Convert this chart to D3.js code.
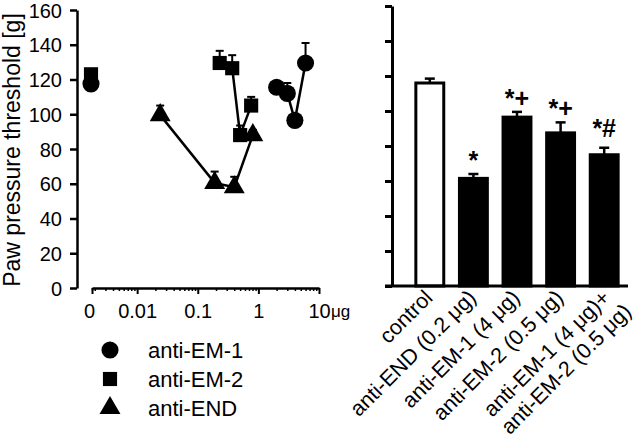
<!DOCTYPE html>
<html>
<head>
<meta charset="utf-8">
<script src="https://cdn.jsdelivr.net/npm/d3@7"></script>
<style>
body { margin: 0; background: white; }
svg { font-family: "Liberation Sans", Arial, sans-serif; }
</style>
</head>
<body>
<div id="chart"></div>
<script>
// dose-response (left panel), dose in ug, 0 = control
var em1Dose = [2, 3, 4, 6];
var em1Val = [115.5, 112, 96.5, 129.5];
var em1Err = [3, 6, 3, 11.5];
var em2Dose = [0.23, 0.37, 0.5, 0.76];
var em2Val = [129.5, 126.5, 88, 105];
var em2Err = [7, 7.5, 5.5, 5];
var endDose = [0.024, 0.19, 0.4, 0.81];
var endVal = [99.5, 60.5, 58, 88];
var endErr = [5.5, 6.5, 6, 3];
var ctrlVal = {circle: 117.5, square: 123};
var ctrlErr = {circle: 2, square: 3};

var yTicks = [0, 20, 40, 60, 80, 100, 120, 140, 160];
var xMajor = [0.01, 0.1, 1, 10];
var xMajorLabels = ["0.01", "0.1", "1", "10"];
var legendNames = ["anti-EM-1", "anti-EM-2", "anti-END"];

// bar panel
var barNames = ["control", "anti-END (0.2 \u03bcg)", "anti-EM-1 (4 \u03bcg)", "anti-EM-2 (0.5 \u03bcg)", "anti-EM-1 (4 \u03bcg)+|anti-EM-2 (0.5 \u03bcg)"];
var barVal = [116, 61.5, 96.5, 87.5, 75];
var barErr = [2.5, 2.5, 3, 6, 4];
var barMarks = ["", "*", "*+", "*+", "*#"];

var svg = d3.select("#chart").append("svg").attr("width", 640).attr("height", 443);

// ---------- left panel ----------
var y = d3.scaleLinear().domain([0, 160]).range([288, 10]);
var xmin = 0.0018;
var x = d3.scaleLog().domain([xmin, 10]).range([92, 319]);

var yAxis = svg.append("g").attr("transform", "translate(77,0)")
	.call(d3.axisLeft(y).tickValues(yTicks).tickSize(7).tickSizeOuter(0));
yAxis.selectAll("text").attr("font-size", 20).attr("fill", "black").attr("dx", -5).attr("dy", "0.36em");
yAxis.selectAll("line, path").attr("stroke", "black").attr("stroke-width", 2.5);

svg.append("text").attr("transform", "translate(20,150) rotate(-90)")
	.attr("text-anchor", "middle").attr("font-size", 23).text("Paw pressure threshold [g]");

// minor log ticks
var minor = [xmin];
[0.001, 0.01, 0.1, 1].forEach(function (d) {
	for (var k = 2; k <= 9; k++) if (d * k > xmin) minor.push(d * k);
});
var xAxisMinor = svg.append("g").attr("transform", "translate(0,288)")
	.call(d3.axisBottom(x).tickValues(minor).tickSize(3).tickSizeOuter(0).tickFormat(""));
xAxisMinor.selectAll("line").attr("stroke", "black").attr("stroke-width", 1.5);
xAxisMinor.select("path").attr("stroke", "black").attr("stroke-width", 2.5);

var xAxisMajor = svg.append("g").attr("transform", "translate(0,288)")
	.call(d3.axisBottom(x).tickValues([xmin].concat(xMajor)).tickSize(6).tickSizeOuter(0)
		.tickFormat(function (d, i) { return i == 0 ? "0" : xMajorLabels[i - 1]; }));
xAxisMajor.select("path").remove();
xAxisMajor.selectAll("line").attr("stroke", "black").attr("stroke-width", 2);
xAxisMajor.selectAll("text").attr("font-size", 20).attr("fill", "black").attr("dy", "1.05em");
xAxisMajor.selectAll("text").filter(function (d, i) { return i == 0; }).attr("dx", -3);
svg.append("text").attr("x", x(10) + 12).attr("y", 317).attr("font-size", 17).text("\u03bcg");

var series = [
	{dose: em1Dose, val: em1Val, err: em1Err, shape: "circle"},
	{dose: em2Dose, val: em2Val, err: em2Err, shape: "square"},
	{dose: endDose, val: endVal, err: endErr, shape: "triangle"}
];

var symbols = {
	circle: d3.symbol().type(d3.symbolCircle).size(230),
	square: d3.symbol().type(d3.symbolSquare).size(200),
	triangle: d3.symbol().type(d3.symbolTriangle).size(190)
};

var line = d3.line().x(function (d) { return x(d.d); }).y(function (d) { return y(d.v); });

series.forEach(function (s) {
	var pts = s.dose.map(function (d, i) { return {d: d, v: s.val[i], e: s.err[i]}; });
	svg.append("path").datum(pts).attr("d", line).attr("fill", "none").attr("stroke", "black").attr("stroke-width", 2.5);
	var g = svg.append("g");
	g.selectAll("line.err").data(pts).enter().append("line")
		.attr("x1", function (d) { return x(d.d); }).attr("x2", function (d) { return x(d.d); })
		.attr("y1", function (d) { return y(d.v); }).attr("y2", function (d) { return y(d.v + d.e); })
		.attr("stroke", "black").attr("stroke-width", 2);
	g.selectAll("line.cap").data(pts).enter().append("line")
		.attr("x1", function (d) { return x(d.d) - 4; }).attr("x2", function (d) { return x(d.d) + 4; })
		.attr("y1", function (d) { return y(d.v + d.e); }).attr("y2", function (d) { return y(d.v + d.e); })
		.attr("stroke", "black").attr("stroke-width", 2);
	g.selectAll("path.pt").data(pts).enter().append("path")
		.attr("d", symbols[s.shape])
		.attr("transform", function (d) { return "translate(" + x(d.d) + "," + y(d.v) + ")"; })
		.attr("fill", "black");
});

// control points at dose 0
["square", "circle"].forEach(function (k) {
	var cx = x(xmin) - 1, cy = y(ctrlVal[k]), ct = y(ctrlVal[k] + ctrlErr[k]);
	svg.append("line").attr("x1", cx).attr("x2", cx).attr("y1", cy).attr("y2", ct).attr("stroke", "black").attr("stroke-width", 2);
	svg.append("line").attr("x1", cx - 4).attr("x2", cx + 4).attr("y1", ct).attr("y2", ct).attr("stroke", "black").attr("stroke-width", 2);
	svg.append("path").attr("d", symbols[k]).attr("transform", "translate(" + cx + "," + cy + ")");
});

// legend
var leg = svg.append("g");
["circle", "square", "triangle"].forEach(function (k, i) {
	var ly = 350 + i * 29;
	leg.append("path").attr("d", symbols[k]).attr("transform", "translate(110," + ly + ")");
	leg.append("text").attr("x", 148).attr("y", ly + 8).attr("font-size", 22).text(legendNames[i]);
});

// ---------- right panel ----------
var yb = d3.scaleLinear().domain([0, 160]).range([286, 6]);
var xb = d3.scaleBand().domain(barNames).range([408, 626]).paddingInner(0.36).paddingOuter(0.18);

var ybAxis = svg.append("g").attr("transform", "translate(392,0)")
	.call(d3.axisLeft(yb).tickValues(yTicks).tickSize(7).tickSizeOuter(0).tickFormat(""));
ybAxis.selectAll("line, path").attr("stroke", "black").attr("stroke-width", 3);

svg.selectAll("rect.bar").data(barNames).enter().append("rect")
	.attr("class", "bar")
	.attr("x", function (d) { return xb(d); })
	.attr("y", function (d, i) { return yb(barVal[i]); })
	.attr("width", xb.bandwidth())
	.attr("height", function (d, i) { return yb(0) - yb(barVal[i]); })
	.attr("fill", function (d, i) { return i == 0 ? "white" : "black"; })
	.attr("stroke", "black").attr("stroke-width", 3);

svg.selectAll("line.berr").data(barNames).enter().append("line")
	.attr("x1", function (d) { return xb(d) + xb.bandwidth() / 2; })
	.attr("x2", function (d) { return xb(d) + xb.bandwidth() / 2; })
	.attr("y1", function (d, i) { return yb(barVal[i]); })
	.attr("y2", function (d, i) { return yb(barVal[i] + barErr[i]); })
	.attr("stroke", "black").attr("stroke-width", 2.5);
svg.selectAll("line.bcap").data(barNames).enter().append("line")
	.attr("x1", function (d) { return xb(d) + xb.bandwidth() / 2 - 5; })
	.attr("x2", function (d) { return xb(d) + xb.bandwidth() / 2 + 5; })
	.attr("y1", function (d, i) { return yb(barVal[i] + barErr[i]); })
	.attr("y2", function (d, i) { return yb(barVal[i] + barErr[i]); })
	.attr("stroke", "black").attr("stroke-width", 2.5);

svg.selectAll("text.mark").data(barNames).enter().append("text")
	.attr("x", function (d) { return xb(d) + xb.bandwidth() / 2; })
	.attr("y", function (d, i) { return yb(barVal[i] + barErr[i]) - (i == 4 ? 11 : 5); })
	.attr("text-anchor", "middle").attr("font-size", 25).attr("font-weight", "bold")
	.text(function (d, i) { return barMarks[i]; });

// x axis line
svg.append("line").attr("x1", 385).attr("x2", xb.range()[1] + 2).attr("y1", yb(0)).attr("y2", yb(0))
	.attr("stroke", "black").attr("stroke-width", 3);

// rotated category labels (multi-line labels left-aligned, first line ends at the bar)
svg.selectAll("text.cat").data(barNames).enter().append("text")
	.attr("transform", function (d, i) {
		var off = d.indexOf("|") >= 0 ? 7 : 4;
		return "translate(" + (xb(d) + xb.bandwidth() / 2 + off) + ",299) rotate(-45)";
	})
	.attr("font-size", 21.5)
	.each(function (d) {
		var parts = d.split("|");
		var t = d3.select(this);
		var spans = parts.map(function (p, j) {
			return t.append("tspan").attr("dy", j == 0 ? 0 : "1.15em").text(p);
		});
		var len = spans[0].node().getComputedTextLength();
		spans.forEach(function (s) { s.attr("x", -len); });
	});
</script>
</body>
</html>
